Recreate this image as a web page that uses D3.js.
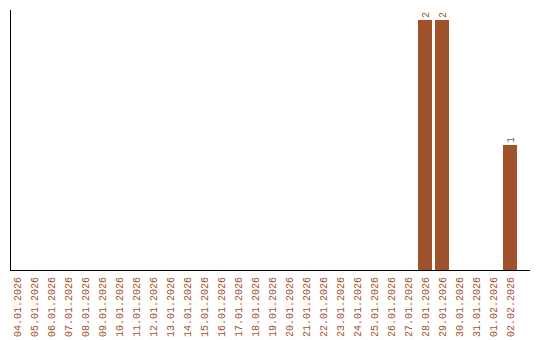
<!DOCTYPE html>
<html>
<head>
<meta charset="utf-8">
<script src="https://cdn.jsdelivr.net/npm/d3@7"></script>
<style>
  body { margin: 0; background: #fff; }
  text { font-family: "Liberation Mono", "DejaVu Sans Mono", monospace; -webkit-font-smoothing: none; }
</style>
</head>
<body>
<script>
// dates shown on the x axis
var dates = ["04.01.2026","05.01.2026","06.01.2026","07.01.2026","08.01.2026","09.01.2026",
  "10.01.2026","11.01.2026","12.01.2026","13.01.2026","14.01.2026","15.01.2026","16.01.2026",
  "17.01.2026","18.01.2026","19.01.2026","20.01.2026","21.01.2026","22.01.2026","23.01.2026",
  "24.01.2026","25.01.2026","26.01.2026","27.01.2026","28.01.2026","29.01.2026","30.01.2026",
  "31.01.2026","01.02.2026","02.02.2026"];
// count per date
var counts = [0,0,0,0,0,0,0,0,0,0,0,0,0,0,0,0,0,0,0,0,0,0,0,0,2,2,0,0,0,1];

var w = 540, h = 340;
var padLeft = 10, padBottom = 270, padTop = 10, padRight = 530;
var color = "#a0522d";

var data = dates.map(function(d, i) { return { date: d, v: counts[i] }; });

var svg = d3.select("body").append("svg")
  .attr("width", w)
  .attr("height", h);

//scales
var xScale = d3.scaleBand()
  .domain(dates)
  .range([padLeft, padLeft + dates.length * 17]);

var yScale = d3.scaleLinear()
  .domain([0, 2.08])
  .range([padBottom, padTop]);

var barW = xScale.bandwidth() - 3;

//bars
svg.selectAll(".bar")
  .data(data.filter(function(d) { return d.v > 0; }))
  .enter()
  .append("rect")
  .attr("class", "bar")
  .attr("x", function(d) { return xScale(d.date); })
  .attr("y", function(d) { return yScale(d.v); })
  .attr("width", barW)
  .attr("height", function(d) { return padBottom - yScale(d.v); })
  .style("fill", color);

//x labels
var xAxis = d3.axisBottom(xScale).tickSize(0).tickPadding(0);
var gx = svg.append("g")
  .attr("transform", "translate(0," + padBottom + ")")
  .call(xAxis);
gx.select(".domain").remove();
gx.selectAll("text")
  .attr("font-family", null)
  .style("font-size", "10px")
  .style("fill", color)
  .attr("transform", "rotate(-90)")
  .attr("text-anchor", "end")
  .attr("x", -7)
  .attr("y", -1.5)
  .attr("dy", "0.35em")
  .attr("dx", 0);

//value labels
svg.selectAll(".val")
  .data(data.filter(function(d) { return d.v > 0; }))
  .enter()
  .append("text")
  .attr("class", "val")
  .attr("transform", function(d) {
    return "translate(" + (xScale(d.date) + barW / 2) + "," + (yScale(d.v) - 2) + ") rotate(-90)";
  })
  .attr("text-anchor", "start")
  .attr("dy", "0.35em")
  .style("font-size", "10px")
  .style("fill", color)
  .text(function(d) { return d.v; });

//axis lines
svg.append("line")
  .attr("x1", padLeft + 0.5).attr("x2", padLeft + 0.5)
  .attr("y1", padTop).attr("y2", padBottom + 0.5)
  .attr("stroke", "#000");
svg.append("line")
  .attr("x1", padLeft).attr("x2", padRight)
  .attr("y1", padBottom + 0.5).attr("y2", padBottom + 0.5)
  .attr("stroke", "#000");
</script>
</body>
</html>
